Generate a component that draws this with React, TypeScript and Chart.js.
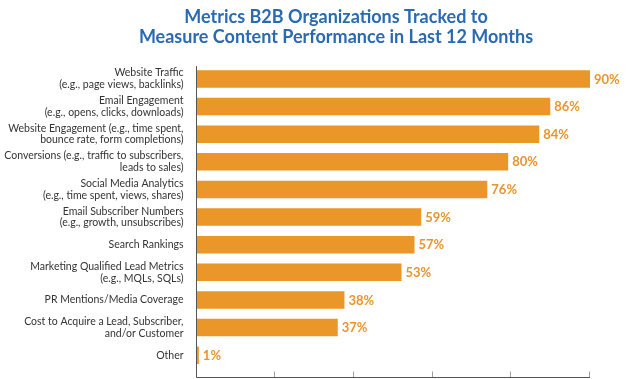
import React, { useEffect, useRef } from "react";
import { Chart, registerables } from "chart.js";

Chart.register(...registerables);

const titleLines = [
  "Metrics B2B Organizations Tracked to",
  "Measure Content Performance in Last 12 Months",
];

const categories: (string | string[])[] = [
  ["Website Traffic", "(e.g., page views, backlinks)"],
  ["Email Engagement", "(e.g., opens, clicks, downloads)"],
  ["Website Engagement (e.g., time spent,", "bounce rate, form completions)"],
  ["Conversions (e.g., traffic to subscribers,", "leads to sales)"],
  ["Social Media Analytics", "(e.g., time spent, views, shares)"],
  ["Email Subscriber Numbers", "(e.g., growth, unsubscribes)"],
  "Search Rankings",
  ["Marketing Qualified Lead Metrics", "(e.g., MQLs, SQLs)"],
  "PR Mentions/Media Coverage",
  ["Cost to Acquire a Lead, Subscriber,", "and/or Customer"],
  "Other",
];

// Printed percentages
const percentLabels = ["90%", "86%", "84%", "80%", "76%", "59%", "57%", "53%", "38%", "37%", "1%"];

// Bar lengths as drawn, read against the unlabeled 0-100 axis
const barLengths = [100, 89.9, 87.1, 79.2, 73.9, 57.1, 55.4, 52.1, 37.6, 35.9, 0.6];

const axisTicks = [0, 20, 40, 60, 80, 100];

const BAR_COLOR = "#EA9629";
const LABEL_COLOR = "#E8952E";
const TITLE_COLOR = "#2A6AB2";
const FONT = "Lato";

const axisPlugin = {
  id: "customAxes",
  afterDatasetsDraw(chart: any) {
    const { ctx, chartArea, scales } = chart;
    const xs = scales.x;
    const yAxis = Math.round(chartArea.bottom + 8) + 0.5;
    const x0 = Math.round(xs.getPixelForValue(0)) - 0.5;
    const xEnd = xs.getPixelForValue(axisTicks[axisTicks.length - 1]);
    ctx.save();
    ctx.lineWidth = 1;
    ctx.strokeStyle = "#a0a0a0";
    axisTicks.forEach((v) => {
      const px = Math.round(xs.getPixelForValue(v)) - 0.5;
      ctx.beginPath();
      ctx.moveTo(px, yAxis - 6);
      ctx.lineTo(px, yAxis);
      ctx.stroke();
    });
    ctx.strokeStyle = "#555555";
    ctx.beginPath();
    ctx.moveTo(x0, yAxis);
    ctx.lineTo(xEnd, yAxis);
    ctx.stroke();
    ctx.beginPath();
    ctx.moveTo(x0, chartArea.top + 1);
    ctx.lineTo(x0, yAxis);
    ctx.stroke();

    // value labels
    const meta = chart.getDatasetMeta(0);
    ctx.fillStyle = LABEL_COLOR;
    ctx.font = `bold 13px ${FONT}`;
    ctx.textAlign = "left";
    ctx.textBaseline = "middle";
    meta.data.forEach((bar: any, i: number) => {
      ctx.fillText(percentLabels[i], bar.x + 4, bar.y + 0.5);
    });
    ctx.restore();
  },
};

export default function App() {
  const ref = useRef<HTMLCanvasElement | null>(null);

  useEffect(() => {
    if (!ref.current) return;
    const chart = new Chart(ref.current, {
      type: "bar",
      data: {
        labels: categories,
        datasets: [
          {
            data: barLengths,
            backgroundColor: BAR_COLOR,
            borderWidth: 0,
            categoryPercentage: 1,
            barPercentage: 0.634,
          },
        ],
      },
      options: {
        indexAxis: "y",
        animation: false,
        responsive: true,
        maintainAspectRatio: false,
        layout: { padding: { left: 82, right: 45, top: 0, bottom: 10 } },
        plugins: {
          legend: { display: false },
          tooltip: { enabled: false },
          title: {
            display: true,
            text: titleLines,
            color: TITLE_COLOR,
            font: { family: FONT, size: 18, weight: "bold", lineHeight: 1.1 },
            padding: { top: 7, bottom: 18.5 },
          },
        },
        scales: {
          x: {
            display: false,
            min: 0,
            max: 100,
          },
          y: {
            display: true,
            grid: { display: false, drawTicks: false },
            border: { display: false },
            ticks: {
              color: "#333333",
              padding: 13,
              font: { family: FONT, size: 10.5, lineHeight: 1.12 },
            },
            afterFit(scale: any) {
              scale.width = 114.5;
              scale.paddingTop = 0;
              scale.paddingBottom = 0;
              // let the long labels extend to the left of the padded box
              scale._computeLabelArea = () => undefined;
            },
          },
        },
      },
      plugins: [axisPlugin],
    });
    return () => chart.destroy();
  }, []);

  return (
    <div style={{ position: "absolute", left: 0, top: 0, width: 635, height: 379 }}>
      <canvas ref={ref} />
    </div>
  );
}
